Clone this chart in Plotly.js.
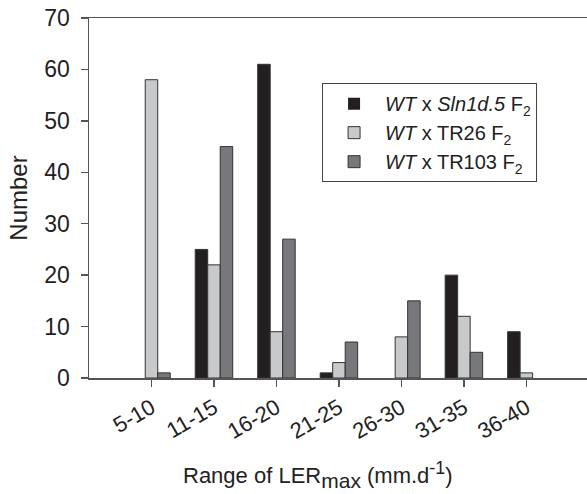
<!DOCTYPE html>
<html>
<head>
<meta charset="utf-8">
<script src="https://cdn.plot.ly/plotly-3.0.1.min.js"></script>
<style>html,body{margin:0;padding:0;background:#fff;}#chart{width:587px;height:494px;}</style>
</head>
<body>
<div id="chart"></div>
<script>
const categories = ["5-10", "11-15", "16-20", "21-25", "26-30", "31-35", "36-40"];
const sln1d5 = [0, 25, 61, 1, 0, 20, 9];
const tr26 = [58, 22, 9, 3, 8, 12, 1];
const tr103 = [1, 45, 27, 7, 15, 5, 0];
const seriesNames = [
  "<i>WT</i> x <i>Sln1d.5</i> F<sub>2</sub>",
  "<i>WT</i> x TR26 F<sub>2</sub>",
  "<i>WT</i> x TR103 F<sub>2</sub>"
];
const yTicks = [0, 10, 20, 30, 40, 50, 60, 70];

const font = "Liberation Sans, Arial, sans-serif";
function edge(vals) {
  return {color: "#333", width: vals.map(v => (v ? 1 : 0))};
}

const traces = [
  {type: "bar", x: categories, y: sln1d5, name: seriesNames[0], marker: {color: "#231f20", line: edge(sln1d5)}},
  {type: "bar", x: categories, y: tr26, name: seriesNames[1], marker: {color: "#c8c9cb", line: edge(tr26)}},
  {type: "bar", x: categories, y: tr103, name: seriesNames[2], marker: {color: "#77787b", line: edge(tr103)}}
];

const layout = {
  width: 587, height: 494,
  margin: {l: 89, r: 0, t: 18, b: 116},
  paper_bgcolor: "#fff", plot_bgcolor: "#fff",
  font: {family: font, color: "#222", size: 20},
  barmode: "group", bargap: 0.4, bargroupgap: 0,
  showlegend: true,
  legend: {
    x: 0.468, y: 0.819, xanchor: "left", yanchor: "top",
    bgcolor: "#fff", bordercolor: "#444", borderwidth: 1,
    font: {family: font, size: 20, color: "#222"},
    tracegroupgap: 6, itemwidth: 52
  },
  xaxis: {
    type: "category", range: [-1, 6.97],
    showgrid: false, zeroline: false,
    showline: true, linecolor: "#555", linewidth: 1.5, mirror: true,
    ticks: "outside", ticklen: 7, tickcolor: "#555", tickwidth: 1.5,
    tickangle: -30, tickfont: {family: font, size: 22, color: "#222"}
  },
  yaxis: {
    range: [0, 70], tickvals: yTicks,
    showgrid: false, zeroline: false,
    showline: true, linecolor: "#555", linewidth: 1.5,
    ticks: "outside", ticklen: 7, tickcolor: "#555", tickwidth: 1.5,
    ticklabelstandoff: 6,
    tickfont: {family: font, size: 23, color: "#222"},
    title: {text: "Number", font: {family: font, size: 24, color: "#222"}, standoff: 10}
  },
  annotations: [{
    xref: "paper", yref: "paper", x: 0.46, y: -0.27, xanchor: "center", yanchor: "middle",
    showarrow: false,
    text: "Range of LER<sub><span style='font-size:21px'>max</span></sub> (mm.d<sup><span style='font-size:18px'>-1</span></sup>)",
    font: {family: font, size: 22, color: "#222"}
  }]
};

Plotly.newPlot("chart", traces, layout, {staticPlot: true, displayModeBar: false});
</script>
</body>
</html>
